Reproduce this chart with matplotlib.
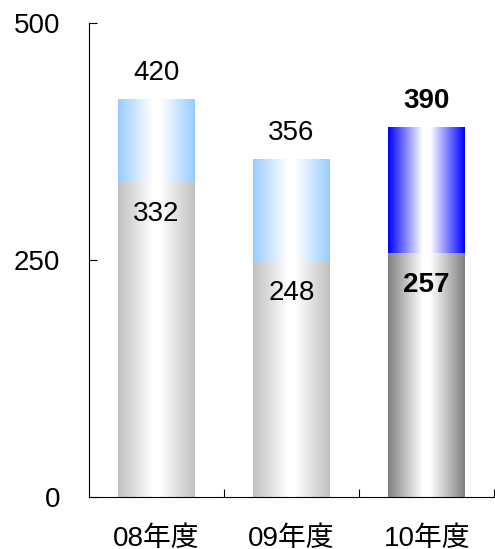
import matplotlib
matplotlib.use('Agg')
import matplotlib.pyplot as plt
from matplotlib.colors import to_rgb
import numpy as np

plt.rcParams['font.family'] = ['Liberation Sans', 'Noto Sans CJK JP', 'DejaVu Sans']

# data
years = ['08年度', '09年度', '10年度']
base = [332, 248, 257]
total = [420, 356, 390]
highlight = [False, False, True]

fig = plt.figure(figsize=(4.95, 5.49), dpi=100)
ax = fig.add_axes([88.7 / 495, 52.3 / 549, 405.6 / 495, 474 / 549])

x = np.arange(len(years))
width = 0.567
top = [t - b for t, b in zip(total, base)]

bars_bottom = ax.bar(x, base, width, color='none', edgecolor='none')
bars_top = ax.bar(x, top, width, bottom=base, color='none', edgecolor='none')


def gradient(edge):
    t = np.linspace(0, 1, 256)
    w = np.clip((np.abs(t - 0.5) - 0.05) / 0.45, 0, 1)
    e = np.array(to_rgb(edge))
    img = (1 - w)[:, None] * np.ones(3) + w[:, None] * e
    return img[None, :, :]


def fill(patch, edge):
    x0, y0 = patch.get_x(), patch.get_y()
    w, h = patch.get_width(), patch.get_height()
    im = ax.imshow(gradient(edge), extent=[x0, x0 + w, y0, y0 + h],
                   aspect='auto', interpolation='bilinear', zorder=2)
    im.set_clip_path(patch)


for i in range(len(years)):
    if highlight[i]:
        fill(bars_bottom[i], '#808080')
        fill(bars_top[i], '#0000ff')
    else:
        fill(bars_bottom[i], '#c0c0c0')
        fill(bars_top[i], '#99ccff')

for i in range(len(years)):
    fw = 'bold' if highlight[i] else 'normal'
    ax.annotate(str(total[i]), (x[i], total[i]), xytext=(0, 9.3),
                textcoords='offset points', ha='center', va='bottom',
                fontsize=20, fontweight=fw, zorder=5)
    ax.annotate(str(base[i]), (x[i], base[i]), xytext=(0, -13.5),
                textcoords='offset points', ha='center', va='top',
                fontsize=20, fontweight=fw, zorder=5)

ax.set_xlim(-0.5, 2.5)
ax.set_ylim(0, 500)
ax.set_yticks([0, 250, 500])
ax.set_xticks(x)
ax.set_xticklabels(years)
ax.set_xticks([0.5, 1.5, 2.5], minor=True)

ax.spines['top'].set_visible(False)
ax.spines['right'].set_visible(False)
for s in ['left', 'bottom']:
    ax.spines[s].set_linewidth(0.8)
    ax.spines[s].set_color('black')

ax.tick_params(axis='y', direction='in', length=5.8, width=0.8, pad=20.5, labelsize=20)
ax.tick_params(axis='x', which='major', length=0, pad=21, labelsize=20)
ax.tick_params(axis='x', which='minor', direction='in', length=5.8, width=0.8)

fig.savefig('out.png', dpi=100)
